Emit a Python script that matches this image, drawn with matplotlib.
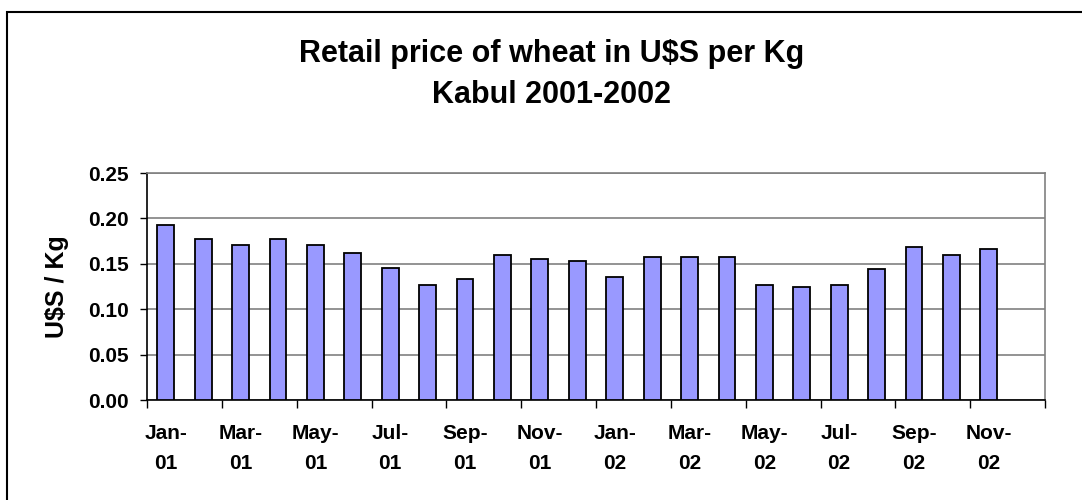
import matplotlib.pyplot as plt
import numpy as np
from matplotlib.patches import Rectangle

# monthly retail price of wheat, Kabul (U$S per Kg)
months = ['Jan-01', 'Feb-01', 'Mar-01', 'Apr-01', 'May-01', 'Jun-01',
          'Jul-01', 'Aug-01', 'Sep-01', 'Oct-01', 'Nov-01', 'Dec-01',
          'Jan-02', 'Feb-02', 'Mar-02', 'Apr-02', 'May-02', 'Jun-02',
          'Jul-02', 'Aug-02', 'Sep-02', 'Oct-02', 'Nov-02']
prices = [0.193, 0.177, 0.171, 0.177, 0.171, 0.162,
          0.145, 0.127, 0.133, 0.160, 0.155, 0.153,
          0.136, 0.158, 0.158, 0.158, 0.127, 0.125,
          0.127, 0.144, 0.169, 0.160, 0.166]
yticks = [0.00, 0.05, 0.10, 0.15, 0.20, 0.25]

plt.rcParams['font.family'] = ['Liberation Sans', 'DejaVu Sans']

fig = plt.figure(figsize=(10.82, 5.0), dpi=100)
ax = fig.add_axes([147 / 1082, 1 - 400 / 500, 898 / 1082, 227 / 500])

# outer chart border (runs off the right and bottom edge)
fig.patches.append(Rectangle((7 / 1082, -0.05), 1.1, 1 - 12 / 500 + 0.05,
                             transform=fig.transFigure, fill=False,
                             edgecolor='black', linewidth=1.5))

x = np.arange(len(months))
ax.bar(x, prices, width=0.45, color='#9999FF', edgecolor='black',
       linewidth=1.3, zorder=3)

ax.set_xlim(-0.5, 23.5)
ax.set_ylim(0, 0.25)
ax.set_yticks(yticks)
ax.set_yticklabels(['%.2f' % v for v in yticks], fontsize=15, fontweight='bold')
ax.yaxis.grid(True, color='#808080', linewidth=1.2, zorder=0)

# ticks at category boundaries, labels on every other month
ax.set_xticks(np.arange(-0.5, 24, 2))
ax.set_xticklabels([])
ax.set_xticks(x[::2], minor=True)
ax.set_xticklabels([m.replace('-', '-\n') for m in months[::2]], minor=True,
                   fontsize=15, fontweight='bold', linespacing=1.75)
ax.tick_params(axis='x', which='minor', length=0, pad=17)
ax.tick_params(axis='x', which='major', direction='out', length=6, width=1)
ax.tick_params(axis='y', direction='out', length=5, width=1, pad=8)

for side in ['top', 'right']:
    ax.spines[side].set_color('#808080')
    ax.spines[side].set_linewidth(1.2)
for side in ['left', 'bottom']:
    ax.spines[side].set_color('black')
    ax.spines[side].set_linewidth(1.2)

ax.set_ylabel('U$S / Kg', fontsize=18, fontweight='bold', labelpad=14)

fig.text(552 / 1082, 1 - 62 / 500, 'Retail price of wheat in U$S per Kg',
         ha='center', va='baseline', fontsize=22, fontweight='bold')
fig.text(552 / 1082, 1 - 103 / 500, 'Kabul 2001-2002',
         ha='center', va='baseline', fontsize=22, fontweight='bold')

fig.savefig('out.png', dpi=100)
